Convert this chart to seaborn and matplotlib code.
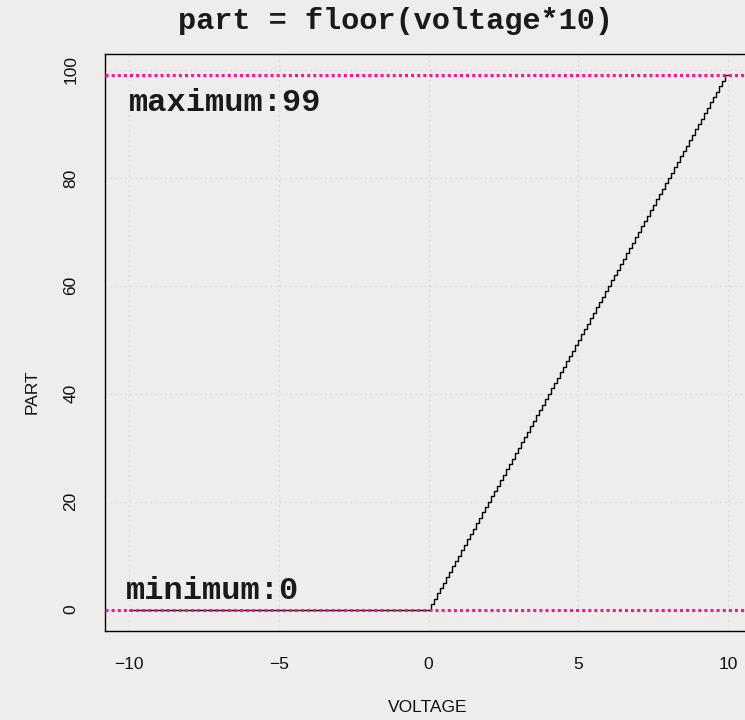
import matplotlib
matplotlib.use("Agg")
import matplotlib.pyplot as plt
import seaborn as sns
import pandas as pd

# Step breakpoints (voltage) and resulting part values
voltage = [-10.0, 0.1, 0.2, 0.3, 0.4, 0.5, 0.6, 0.7, 0.8, 0.9,
           1.0, 1.1, 1.2, 1.3, 1.4, 1.5, 1.6, 1.7, 1.8, 1.9,
           2.0, 2.1, 2.2, 2.3, 2.4, 2.5, 2.6, 2.7, 2.8, 2.9,
           3.0, 3.1, 3.2, 3.3, 3.4, 3.5, 3.6, 3.7, 3.8, 3.9,
           4.0, 4.1, 4.2, 4.3, 4.4, 4.5, 4.6, 4.7, 4.8, 4.9,
           5.0, 5.1, 5.2, 5.3, 5.4, 5.5, 5.6, 5.7, 5.8, 5.9,
           6.0, 6.1, 6.2, 6.3, 6.4, 6.5, 6.6, 6.7, 6.8, 6.9,
           7.0, 7.1, 7.2, 7.3, 7.4, 7.5, 7.6, 7.7, 7.8, 7.9,
           8.0, 8.1, 8.2, 8.3, 8.4, 8.5, 8.6, 8.7, 8.8, 8.9,
           9.0, 9.1, 9.2, 9.3, 9.4, 9.5, 9.6, 9.7, 9.8, 9.9, 10.0]
part = [0, 1, 2, 3, 4, 5, 6, 7, 8, 9,
        10, 11, 12, 13, 14, 15, 16, 17, 18, 19,
        20, 21, 22, 23, 24, 25, 26, 27, 28, 29,
        30, 31, 32, 33, 34, 35, 36, 37, 38, 39,
        40, 41, 42, 43, 44, 45, 46, 47, 48, 49,
        50, 51, 52, 53, 54, 55, 56, 57, 58, 59,
        60, 61, 62, 63, 64, 65, 66, 67, 68, 69,
        70, 71, 72, 73, 74, 75, 76, 77, 78, 79,
        80, 81, 82, 83, 84, 85, 86, 87, 88, 89,
        90, 91, 92, 93, 94, 95, 96, 97, 98, 99, 99]
x_ticks = [-10, -5, 0, 5, 10]
y_ticks = [0, 20, 40, 60, 80, 100]
part_min = 0
part_max = 99
title = "part = floor(voltage*10)"

bg = "#EEEDEB"
sns.set_style("white")
plt.rcParams["font.family"] = ["Liberation Sans", "DejaVu Sans"]

fig = plt.figure(figsize=(7.45, 7.2), dpi=100, facecolor=bg)
ax = fig.add_axes([105/745, 1-631/720, (752-105)/745, (631-54)/720])
ax.set_facecolor(bg)

df = pd.DataFrame({"voltage": voltage, "part": part})
sns.lineplot(data=df, x="voltage", y="part", ax=ax, color="black",
             linewidth=1.0, drawstyle="steps-post", estimator=None, sort=False,
             zorder=3)

for v in (part_min, part_max):
    ax.axhline(v, color="#FF1493", linewidth=2.2, linestyle=(0, (1, 1.0)),
               dash_capstyle="butt", zorder=4)

ax.set_xlim(-10.8, 10.8)
ax.set_ylim(-3.96, 102.96)
ax.set_xticks(x_ticks)
ax.set_yticks(y_ticks)
ax.set_xticklabels([str(t).replace("-", "\u2212") for t in x_ticks], fontsize=12.5)
ax.set_yticklabels([str(t) for t in y_ticks], fontsize=12.5, rotation=90, va="center")
ax.tick_params(axis="both", direction="out", length=7, width=1, color="black",
               labelcolor="#111111")
ax.tick_params(axis="x", pad=12)
ax.tick_params(axis="y", pad=12)
ax.grid(True, color="#D4D4D4", linestyle=(0, (1, 3)), linewidth=0.9, zorder=0)
ax.set_axisbelow(True)
for s in ("left", "top", "bottom"):
    ax.spines[s].set_visible(True)
    ax.spines[s].set_color("black")
    ax.spines[s].set_linewidth(1.0)
ax.spines["right"].set_visible(False)

ax.set_xlabel("")
ax.set_ylabel("")
fig.text(428/745, 1-708/720, "VOLTAGE", ha="center", va="center", fontsize=12.5, color="#111111")
fig.text(32/745, 1-392/720, "PART", ha="center", va="center", fontsize=12.5,
         rotation=90, color="#111111")

mono = ["Liberation Mono", "DejaVu Sans Mono"]
fig.text(395/745, 1-21/720, title, ha="center", va="center", fontsize=21.8,
         fontweight="bold", family=mono, color="#1a1a1a")
ax.text(-10.0, 93.9, "maximum:" + str(part_max), ha="left", va="center",
        fontsize=23, fontweight="bold", family=mono, color="#1a1a1a")
ax.text(-10.1, 3.5, "minimum:" + str(part_min), ha="left", va="center",
        fontsize=23, fontweight="bold", family=mono, color="#1a1a1a")

fig.savefig("out.png", dpi=100, facecolor=bg)
